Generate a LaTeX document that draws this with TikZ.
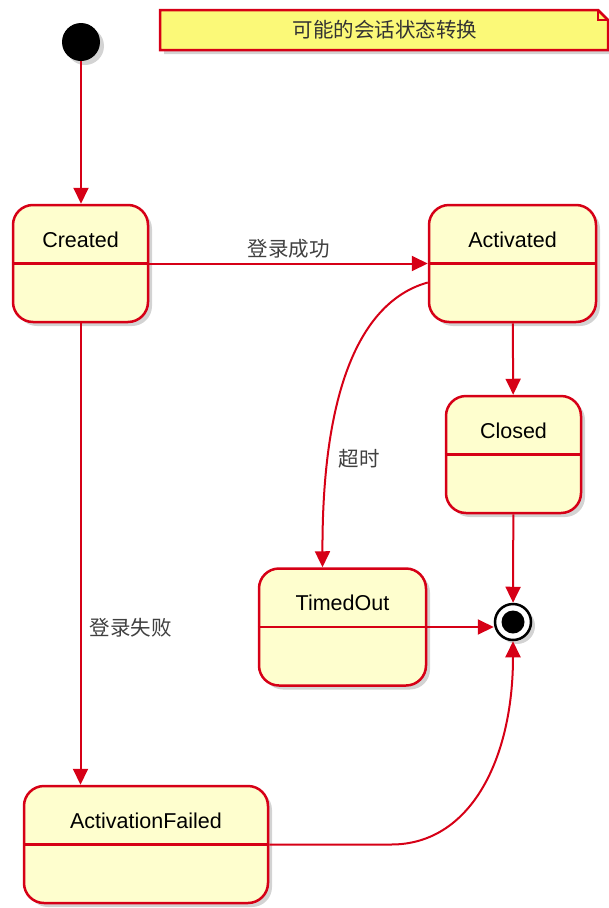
\documentclass[tikz,border=0pt]{standalone}
\usepackage{fontspec}
\setmainfont{Liberation Sans}
\newfontfamily\cjk{Noto Sans CJK SC}
\usepackage{tikz}
\usetikzlibrary{arrows.meta,shadows}

\definecolor{umlred}{RGB}{214,0,22}
\definecolor{statefill}{RGB}{254,254,206}
\definecolor{notefill}{RGB}{251,249,120}

\tikzset{
  umlshadow/.style={drop shadow={shadow xshift=4pt,shadow yshift=-4pt,opacity=0.35}},
  state/.style={draw=umlred, fill=statefill, line width=2.5pt, rounded corners=20pt,
    minimum width=#1, inner ysep=15pt, text height=27pt, text depth=60pt,
    text=black, font=\fontsize{21.5}{26}\selectfont, umlshadow},
  trans/.style={draw=umlred, line width=2pt, -{Triangle[length=16pt,width=15pt]}},
  lbl/.style={font=\cjk\fontsize{20.5}{24}\selectfont, text=black!75}
}

\begin{document}
\begin{tikzpicture}[x=1pt,y=-1pt]
\useasboundingbox (0,0) rectangle (609,908);

% note
\draw[draw=umlred, fill=notefill, line width=2.5pt, umlshadow]
  (160,10) -- (598,10) -- (608,20) -- (608,50) -- (160,50) -- cycle;
\draw[umlred, line width=2pt] (598,10) -- (598,20) -- (608,20);
\node[lbl, text=black!80] (note) at (385,30) {可能的会话状态转换};

% start and end
\node[circle, fill=black, minimum size=38pt, inner sep=0pt, umlshadow] (start) at (81,42) {};
\node[circle, draw=black, fill=white, line width=2.5pt, minimum size=36pt, inner sep=0pt, umlshadow] (end) at (513,622) {};
\fill (end.center) circle (11.5pt);

% states
\node[state=135pt] (created) at (80.5,263.5) {Created};
\node[state=167pt] (activated) at (512.5,263.5) {Activated};
\node[state=135pt] (closed) at (513.5,454.5) {Closed};
\node[state=167pt] (timedout) at (342.5,627) {TimedOut};
\node[state=244pt] (failed) at (146,844.5) {ActivationFailed};
\foreach \n in {created,activated,closed,timedout,failed}
  \draw[umlred, line width=2.5pt] (\n.west) -- (\n.east);

% transitions
\draw[trans] (start) -- (start |- created.north);
\draw[trans] (created) -- node[lbl, above=1pt] (lblok) {登录成功} (activated);
\draw[trans] (created.south) -- node[lbl, right=5pt, pos=0.66] (lblfail) {登录失败} (created.south |- failed.north);
\draw[trans] (activated) -- (closed);
\draw[trans] ([yshift=-19pt]activated.west) .. controls (365,300) and (322,380) ..
  node[lbl, right=6pt, pos=0.78] (lbltimeout) {超时} ([xshift=-20pt]timedout.north);
\draw[trans] (closed) -- (end);
\draw[trans] (timedout.east) -- (timedout.east -| end.west);
\draw[trans] (failed.east) -- ++(122,0) .. controls (470,844.5) and (513,760) .. (end.south);
\end{tikzpicture}
\end{document}
